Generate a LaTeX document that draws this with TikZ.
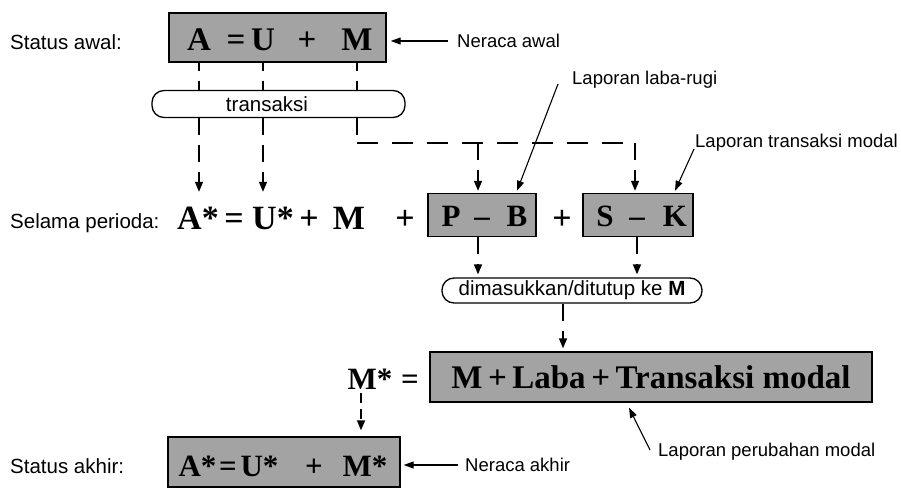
\documentclass[tikz,border=0pt]{standalone}
\usepackage{fontspec}
\setmainfont{Liberation Serif}
\newfontfamily\sansf{Liberation Sans}
\usetikzlibrary{arrows.meta}
\begin{document}
\begin{tikzpicture}[x=1pt,y=-1pt,
  lab/.style={font=\sansf\fontsize{20.5}{24}\selectfont,inner sep=0pt},
  note/.style={font=\sansf\fontsize{18.5}{22}\selectfont,inner sep=0pt,anchor=west},
  sym/.style={font=\bfseries\fontsize{31}{36}\selectfont,inner sep=0pt,anchor=base},
  symt/.style={font=\bfseries\fontsize{33}{38}\selectfont,inner sep=0pt,anchor=base},
  symb/.style={font=\bfseries\fontsize{34}{40}\selectfont,inner sep=0pt,anchor=base},
  gbox/.style={draw=black,line width=1.4pt,fill=black!36,inner sep=0pt},
  rbox/.style={draw=black,line width=1.3pt,rounded corners=12pt,inner sep=0pt},
  dl/.style={line width=1.5pt,dash pattern=on 17pt off 10pt},
  dh/.style={line width=1.5pt,dash pattern=on 21pt off 14pt},
  tip/.style={-{Triangle[length=10pt,width=8pt]}},
  pointer/.style={line width=1.1pt,-{Triangle[length=10pt,width=7pt]}},
]
\useasboundingbox (0,0) rectangle (901,490);

% ---- status awal
\node[gbox,minimum width=217pt,minimum height=49pt] (awal) at (277.5,37.5) {};
\node[symt] (a0) at (199,50) {A};
\node[symt] (e0) at (236,50) {=};
\node[symt] (u0) at (263,50) {U};
\node[symt] (p0) at (307,50) {+};
\node[symt] (m0) at (357,50) {M};
\node[lab,anchor=west] (s1) at (10,42) {Status awal:};
\node[note] (na) at (457,41) {Neraca awal};
\draw[pointer] ([xshift=-9pt]na.west) -- ([xshift=4pt]na.west -| awal.east);

% ---- transaksi
\node[rbox,minimum width=253pt,minimum height=27pt] (trans) at (278.5,104) {};
\node[lab] (tt) at (267,104) {transaksi};
\draw[dl,dash phase=9pt] (awal.south -| a0) -- (trans.north -| a0);
\draw[dl,dash phase=9pt] (awal.south -| u0) -- (trans.north -| u0);
\draw[dl,dash phase=9pt] (awal.south -| m0) -- (trans.north -| m0);

% ---- selama perioda
\node[lab,anchor=west] (s2) at (10,223) {Selama perioda:};
\node[symb] (a1) at (198,229) {A*};
\node[symb] (e1) at (234,229) {=};
\node[symb] (u1) at (273,229) {U*};
\node[symb] (pl1) at (309,229) {+};
\node[symb] (m1) at (349,229) {M};
\node[symb] (pl2) at (405,229) {+};
\node[gbox,minimum width=108pt,minimum height=43pt] (pb) at (482,215) {};
\node[sym] (pP) at (451,226) {P};
\node[sym] (pd) at (482,226) {--};
\node[sym] (pB) at (517,226) {B};
\node[symb] (pl3) at (562,229) {+};
\node[gbox,minimum width=110pt,minimum height=43pt] (sk) at (638,215) {};
\node[sym] (sS) at (605,226) {S};
\node[sym] (sd) at (637,226) {--};
\node[sym] (sK) at (675,226) {K};

\coordinate (hl) at (0,143);
\draw[dl,tip] (trans.south -| a0) -- ([yshift=1pt]a0 |- pb.north);
\draw[dl,tip] (trans.south -| u0) -- ([yshift=1pt]u0 |- pb.north);
\draw[dl] (trans.south -| m0) -- (m0 |- hl);
\draw[dh] (m0 |- hl) -- ([xshift=-3pt]sk.north |- hl);
\draw[dl,tip] ([xshift=-3pt]sk.north |- hl) -- ([xshift=-3pt,yshift=2pt]sk.north);
\draw[dl,tip] ([xshift=-4pt]pb.north |- hl) -- ([xshift=-4pt,yshift=2pt]pb.north);

\node[note] (llr) at (572,80) {Laporan laba-rugi};
\draw[pointer] ([xshift=-14pt,yshift=-4pt]llr.west) -- ([yshift=2pt]pb.north -| pB);
\node[note] (ltm) at (695,143) {Laporan transaksi modal};
\draw[pointer] ([xshift=-1pt,yshift=-6pt]ltm.west) -- ([yshift=2pt]sk.north -| sK);

% ---- dimasukkan
\node[rbox,lab,minimum width=260pt,minimum height=25pt] (dim) at (572,290.5) {dimasukkan/ditutup ke \textbf{M}};
\draw[dl,tip] ([xshift=-4pt]pb.south) -- ([xshift=-4pt,yshift=3pt]pb.south |- dim.north);
\draw[dl,tip] ([xshift=-1pt]sk.south) -- ([xshift=-1pt,yshift=3pt]sk.south |- dim.north);

% ---- modal akhir
\node[gbox,minimum width=442pt,minimum height=50pt,font=\bfseries\fontsize{33}{38}\selectfont] (mb) at (651,377) {M\,+\,Laba\,+\,Transaksi modal};
\draw[dl,tip] ([xshift=-9pt]dim.south) -- ([xshift=-9pt,yshift=3pt]dim.south |- mb.north);
\node[sym] (ms) at (370,389) {M*};
\node[sym] (me) at (410,389) {=};

% ---- status akhir
\node[gbox,minimum width=232pt,minimum height=50pt] (fin) at (284,462) {};
\node[sym] (a2) at (197.5,476) {A*};
\node[sym] (e2) at (228,476) {=};
\node[sym] (u2) at (259.5,476) {U*};
\node[sym] (p2) at (314,476) {+};
\node[sym] (m2) at (365,476) {M*};
\draw[line width=1.5pt,dash pattern=on 10pt off 6pt,tip] ([xshift=-9pt,yshift=-4pt]ms.south) -- ([xshift=-9pt,yshift=6pt]ms.south |- fin.north);

\node[lab,anchor=west] (s3) at (10,466) {Status akhir:};
\node[note] (nak) at (465,465) {Neraca akhir};
\draw[pointer] ([xshift=-7pt]nak.west) -- ([xshift=3pt]nak.west -| fin.east);
\node[note] (lpm) at (658,452) {Laporan perubahan modal};
\draw[pointer] ([xshift=-8pt,yshift=2pt]lpm.west) -- ([xshift=-22pt,yshift=-5pt]mb.south);
\end{tikzpicture}
\end{document}
